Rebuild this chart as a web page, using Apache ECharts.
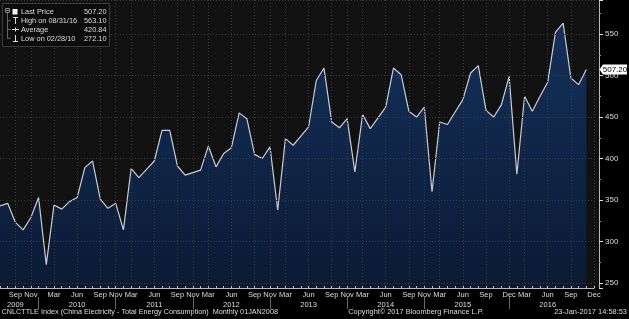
<!DOCTYPE html>
<html><head><meta charset="utf-8">
<script src="https://cdn.jsdelivr.net/npm/echarts@6/dist/echarts.min.js"></script>
<style>html,body{margin:0;padding:0;background:#000;}#c{width:629px;height:319px;}</style>
</head><body><div id="c"></div>
<script>
// ---- data ----
const yearMonths = [
  ['2009', ['Jul','Aug','Sep','Oct','Nov','Dec']],
  ['2010', ['Feb','Mar','Apr','May','Jun','Jul','Aug','Sep','Oct','Nov']],
  ['2011', ['Feb','Mar','Apr','May','Jun','Jul','Aug','Sep','Oct','Nov']],
  ['2012', ['Feb','Mar','Apr','May','Jun','Jul','Aug','Sep','Oct','Nov']],
  ['2013', ['Feb','Mar','Apr','May','Jun','Jul','Aug','Sep','Oct','Nov']],
  ['2014', ['Feb','Mar','Apr','May','Jun','Jul','Aug','Sep','Oct','Nov']],
  ['2015', ['Feb','Mar','Apr','May','Jun','Jul','Aug','Sep','Oct','Nov','Dec']],
  ['2016', ['Feb','Mar','Apr','May','Jun','Jul','Aug','Sep','Oct','Nov','Dec']]
];
const values = [
  343,346,323,314,329,353,
  272.1,344,339,348,353,389,397,351,340,346,
  314,388,377,387,397,434,434,391,380,383,
  386,415,390,406,413,455,448,405,400,414,
  338,424,416,427,438,494,509,444,437,448,
  384,453,436,449,462,509,501,457,450,462,
  360,444,441,456,471,503,512,458,450,465,499,
  381,475,457,475,492,552,563.1,497,489,507.2
];
const monthTickLabels = ['Sep 2009','Nov 2009','Mar 2010','Jun 2010','Sep 2010','Nov 2010','Mar 2011','Jun 2011','Sep 2011','Nov 2011','Mar 2012','Jun 2012','Sep 2012','Nov 2012','Mar 2013','Jun 2013','Sep 2013','Nov 2013','Mar 2014','Jun 2014','Sep 2014','Nov 2014','Mar 2015','Jun 2015','Sep 2015','Dec 2015','Mar 2016','Jun 2016','Sep 2016','Dec 2016'];
const yearLabelAt = ['Sep 2009','Jun 2010','Jun 2011','Jun 2012','Jun 2013','Jun 2014','Jun 2015','Jun 2016'];
const yearBreaks = ['Dec 2009','Nov 2010','Nov 2011','Nov 2012','Nov 2013','Nov 2014','Dec 2015'];
const legendNames = ['Last Price','High on 08/31/16','Average','Low on 02/28/10'];
const legendValues = ['507.20','563.10','420.84','272.10'];
const lastValue = 507.2;
const footerLeft = 'CNLCTTLE Index (China Electricity - Total Energy Consumption)  Monthly 01JAN2008';
const footerMid = 'Copyright\u00A9 2017 Bloomberg Finance L.P.';
const footerRight = '23-Jan-2017 14:58:53';

// ---- build ----
const categories = [];
yearMonths.forEach(([y, ms]) => ms.forEach(m => categories.push(m + ' ' + y)));
const tickSet = new Set(monthTickLabels);
const yearLabSet = new Set(yearLabelAt);
const breakSet = new Set(yearBreaks);

const FONT = '"Liberation Sans", Arial, sans-serif';
const FS = 8;
const txt = '#dcdcdc';
const grid = '#3a3a3a';

const chart = echarts.init(document.getElementById('c'), null, {renderer: 'canvas'});

function T(text, x, y, align, sx) {
  return {type: 'text', z: 52, x: x, y: y, scaleX: sx || 0.9, style: {text, x: 0, y: 0, fill: txt, fontSize: FS, fontFamily: FONT, textAlign: align, textVerticalAlign: 'middle', align: align, verticalAlign: 'middle'}};
}

const legendGraphics = [];
legendGraphics.push({type:'rect', z:50, shape:{x:2.5,y:3.5,width:107,height:43}, style:{fill:'#0c0c0c', stroke:'#3c3c3c', lineWidth:1}});
legendGraphics.push({type:'rect', z:51, shape:{x:5.5,y:8.5,width:4,height:4}, style:{fill:'none', stroke:'#888', lineWidth:1}});
legendGraphics.push({type:'line', z:51, shape:{x1:6,y1:10.5,x2:9,y2:10.5}, style:{stroke:'#888', lineWidth:1}});
legendGraphics.push({type:'line', z:51, shape:{x1:7.5,y1:13,x2:7.5,y2:38.5}, style:{stroke:'#666', lineWidth:1}});
const rowY = [11.7, 20.7, 29.5, 38.3];
rowY.slice(1).forEach(y => legendGraphics.push({type:'line', z:51, shape:{x1:7.5,y1:y,x2:11,y2:y}, style:{stroke:'#666', lineWidth:1}}));
legendGraphics.push({type:'rect', z:51, shape:{x:12.5,y:9,width:5,height:5.5}, style:{fill:'#ffffff'}});
legendGraphics.push({type:'line', z:51, shape:{x1:13,y1:17.5,x2:18,y2:17.5}, style:{stroke:'#ddd', lineWidth:1}});
legendGraphics.push({type:'line', z:51, shape:{x1:15.5,y1:17.5,x2:15.5,y2:24}, style:{stroke:'#ddd', lineWidth:1}});
legendGraphics.push({type:'line', z:51, shape:{x1:12,y1:29.5,x2:19,y2:29.5}, style:{stroke:'#ddd', lineWidth:1}});
legendGraphics.push({type:'line', z:51, shape:{x1:15.5,y1:27.5,x2:15.5,y2:31.5}, style:{stroke:'#ddd', lineWidth:1}});
legendGraphics.push({type:'line', z:51, shape:{x1:15.5,y1:35,x2:15.5,y2:41.5}, style:{stroke:'#ddd', lineWidth:1}});
legendGraphics.push({type:'line', z:51, shape:{x1:13,y1:41.5,x2:18,y2:41.5}, style:{stroke:'#ddd', lineWidth:1}});
legendNames.forEach((n, i) => {
  legendGraphics.push(T(n, 21, rowY[i], 'left', 0.92));
  legendGraphics.push(T(legendValues[i], 106.5, rowY[i], 'right', 0.92));
});

const option = {
  backgroundColor: '#000',
  animation: false,
  textStyle: {fontFamily: FONT},
  grid: {left: 0, right: 35, top: 0, bottom: 31, containLabel: false},
  xAxis: [{
    type: 'category', data: categories, boundaryGap: false, position: 'bottom',
    axisLine: {show: true, lineStyle: {color: '#bbbbbb', width: 1}},
    axisTick: {show: true, inside: true, length: 2, interval: 0, lineStyle: {color: '#bbbbbb'}},
    axisLabel: {interval: (i, v) => tickSet.has(v), formatter: v => v.split(' ')[0], color: txt, fontSize: 7.5, fontFamily: FONT, margin: 3},
    splitLine: {show: true, interval: (i, v) => tickSet.has(v), lineStyle: {color: grid, type: [1, 2], width: 1}},
    z: 3
  }, {
    type: 'category', data: categories, boundaryGap: false, position: 'bottom', offset: 9,
    axisLine: {show: false},
    axisTick: {show: true, interval: (i, v) => breakSet.has(v), length: 12, lineStyle: {color: '#6a6a6a'}},
    axisLabel: {interval: (i, v) => yearLabSet.has(v), formatter: v => v.split(' ')[1], color: txt, fontSize: 7.5, fontFamily: FONT, margin: 3.5},
    splitLine: {show: false}
  }],
  yAxis: {
    type: 'value', position: 'right', offset: 5, min: 244, max: 591, splitNumber: 5,
    axisLine: {show: true, lineStyle: {color: '#bbbbbb'}},
    axisTick: {show: true, length: 4, lineStyle: {color: '#dddddd'}},
    minorTick: {show: true, splitNumber: 2, length: 2, lineStyle: {color: '#999'}},
    axisLabel: {color: txt, fontSize: FS, fontFamily: FONT, margin: 6, showMinLabel: false, showMaxLabel: false},
    splitLine: {show: true, lineStyle: {color: grid, type: [1, 2], width: 1}},
    z: 3
  },
  series: [{
    type: 'line', data: values, symbol: 'none', smooth: false, z: 2,
    lineStyle: {color: '#c9ced6', width: 1.2},
    areaStyle: {color: new echarts.graphic.LinearGradient(0, 0, 0, 1, [{offset: 0, color: '#14305a'}, {offset: 1, color: '#0a1a34'}]), opacity: 1}
  }],
  graphic: [
    {type: 'rect', z: -100, silent: true, shape: {x: 0, y: 0, width: 599, height: 288}, style: {fill: '#111111'}},
    ...legendGraphics,
    T(footerLeft, 1.5, 312, 'left', 0.905),
    T(footerMid, 416, 312, 'center', 0.92),
    T(footerRight, 627, 312, 'right', 0.93)
  ]
};
chart.setOption(option);

// last price tag on the right axis, positioned via the axis scale
const ty = chart.convertToPixel({yAxisIndex: 0}, lastValue);
chart.setOption({graphic: option.graphic.concat([
  {type: 'polygon', z: 60, shape: {points: [[599.5, ty], [603, ty - 5], [627, ty - 5], [627, ty + 5], [603, ty + 5]]}, style: {fill: '#ffffff'}},
  {type: 'text', z: 61, style: {text: lastValue.toFixed(2), x: 615, y: ty + 0.5, fill: '#000', fontSize: FS, fontFamily: FONT, textAlign: 'center', textVerticalAlign: 'middle', align: 'center', verticalAlign: 'middle'}}
])});
</script>
</body></html>
